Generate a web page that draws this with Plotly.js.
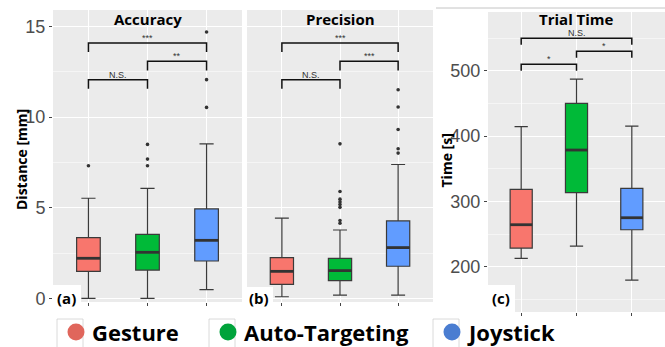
<!DOCTYPE html>
<html>
<head>
<meta charset="utf-8">
<script src="https://cdn.plot.ly/plotly-3.0.1.min.js"></script>
<style>
  html, body { margin: 0; padding: 0; background: #ffffff; }
  #chart { width: 665px; height: 347px; }
</style>
</head>
<body>
<div id="chart"></div>
<script>
// ---------------- data ----------------
const groups = ['Gesture', 'Auto-Targeting', 'Joystick'];
const groupPos = [1, 2, 3];

// Accuracy: Distance [mm]
const accQ1  = [1.49, 1.56, 2.06];
const accMed = [2.21, 2.54, 3.20];
const accQ3  = [3.35, 3.53, 4.93];
const accLo  = [0.00, 0.00, 0.48];
const accHi  = [5.52, 6.07, 8.52];
const accOutliers = [[7.31], [7.31, 7.68, 8.49], [10.53, 12.06, 14.69]];

// Precision: Distance [mm]
const preQ1  = [0.77, 0.98, 1.77];
const preMed = [1.49, 1.53, 2.80];
const preQ3  = [2.25, 2.21, 4.27];
const preLo  = [0.09, 0.18, 0.18];
const preHi  = [4.42, 3.77, 7.38];
const preOutliers = [[], [4.14, 4.29, 5.02, 5.17, 5.32, 5.47, 5.89, 8.52], [8.01, 8.25, 9.31, 10.55, 11.50]];

// Trial Time: Time [s]
const timQ1  = [228.6, 313.3, 256.6];
const timMed = [264.3, 378.6, 275.0];
const timQ3  = [318.4, 450.0, 319.9];
const timLo  = [212.8, 231.6, 179.6];
const timHi  = [414.3, 487.2, 415.3];
const timOutliers = [[], [], []];

// significance brackets: [from group, to group], height, label
const accSigPairs  = [[1, 2], [2, 3], [1, 3]];
const accSigY      = [12.06, 13.07, 14.08];
const accSigLabels = ['N.S.', '**', '***'];
const preSigPairs  = [[1, 2], [2, 3], [1, 3]];
const preSigY      = [12.06, 13.07, 14.08];
const preSigLabels = ['N.S.', '***', '***'];
const timSigPairs  = [[1, 2], [2, 3], [1, 3]];
const timSigY      = [509.8, 530.0, 549.6];
const timSigLabels = ['*', '*', 'N.S.'];

// ---------------- styles ----------------
const fills = ['#F8766D', '#00BA38', '#619CFF'];
const keyColors = ['#E0665C', '#00A33B', '#4A7DD1'];
const BOXW = 0.4;
const W = 665, H = 347;
const px = v => v / W;
const py = v => 1 - v / H;
const boldFont = 'Open Sans, Noto Sans, DejaVu Sans, sans-serif';
const tickFont = {family: 'Liberation Sans, Arial, sans-serif', size: 18, color: '#4D4D4D'};

const traces = [];
const shapes = [];
const annotations = [];

function addPanel(xa, ya, q1, med, q3, lo, hi, outs) {
  for (let i = 0; i < groups.length; i++) {
    traces.push({
      type: 'box', name: groups[i], x: [groupPos[i]],
      q1: [q1[i]], median: [med[i]], q3: [q3[i]],
      lowerfence: [lo[i]], upperfence: [hi[i]],
      width: BOXW, whiskerwidth: 0.6,
      fillcolor: fills[i], line: {color: '#3a3a3a', width: 1.2},
      boxpoints: false, showlegend: false, hoverinfo: 'skip',
      xaxis: xa, yaxis: ya
    });
  }
  // thick median lines
  const mx = [], my = [];
  for (let i = 0; i < groups.length; i++) {
    mx.push(groupPos[i] - BOXW / 2, groupPos[i] + BOXW / 2, null);
    my.push(med[i], med[i], null);
  }
  traces.push({type: 'scatter', mode: 'lines', x: mx, y: my,
    line: {color: '#333333', width: 2.8}, showlegend: false, hoverinfo: 'skip',
    xaxis: xa, yaxis: ya});
  // outliers
  const ox = [], oy = [];
  for (let i = 0; i < groups.length; i++) {
    outs[i].forEach(v => { ox.push(groupPos[i]); oy.push(v); });
  }
  traces.push({type: 'scatter', mode: 'markers', x: ox, y: oy,
    marker: {color: '#333333', size: 3.6}, showlegend: false, hoverinfo: 'skip',
    xaxis: xa, yaxis: ya});
}

function addBrackets(xref, yref, pairs, ys, labels, drop) {
  for (let k = 0; k < pairs.length; k++) {
    const [a, b] = pairs[k];
    const y = ys[k];
    shapes.push({type: 'path', xref: xref, yref: yref,
      path: `M ${a},${y - drop} L ${a},${y} L ${b},${y} L ${b},${y - drop}`,
      line: {color: '#111111', width: 1.5}});
    annotations.push({xref: xref, yref: yref, x: (a + b) / 2, y: y,
      text: labels[k], showarrow: false, yanchor: 'middle', yshift: 5,
      font: {family: 'Liberation Sans, Arial, sans-serif', size: 9, color: '#333333'}});
  }
}

addPanel('x', 'y', accQ1, accMed, accQ3, accLo, accHi, accOutliers);
addPanel('x2', 'y2', preQ1, preMed, preQ3, preLo, preHi, preOutliers);
addPanel('x3', 'y3', timQ1, timMed, timQ3, timLo, timHi, timOutliers);

addBrackets('x', 'y', accSigPairs, accSigY, accSigLabels, 0.5);
addBrackets('x2', 'y2', preSigPairs, preSigY, preSigLabels, 0.5);
addBrackets('x3', 'y3', timSigPairs, timSigY, timSigLabels, 10);

// panel titles
const panels = [
  {title: 'Accuracy', x0: 53, x1: 242, tag: '(a)', tagX: 66.7, box: [53, 81, 285, 303]},
  {title: 'Precision', x0: 247, x1: 433, tag: '(b)', tagX: 259, box: [247, 273, 287, 302]},
  {title: 'Trial Time', x0: 488, x1: 665, tag: '(c)', tagX: 501, box: [488, 515, 285, 312]}
];
panels.forEach(p => {
  annotations.push({xref: 'paper', yref: 'paper', x: px((p.x0 + p.x1) / 2), y: py(19),
    text: '<b>' + p.title + '</b>', showarrow: false, xanchor: 'center', yanchor: 'middle',
    font: {family: boldFont, size: 15, color: '#000000'}});
  shapes.push({type: 'rect', xref: 'paper', yref: 'paper', layer: 'above',
    x0: px(p.box[0]), x1: px(p.box[1]), y0: py(p.box[3]), y1: py(p.box[2]),
    fillcolor: '#ffffff', line: {width: 0}});
  annotations.push({xref: 'paper', yref: 'paper', x: px(p.tagX), y: py(298.3),
    text: '<b>' + p.tag + '</b>', showarrow: false, xanchor: 'center', yanchor: 'middle',
    font: {family: boldFont, size: 15, color: '#000000'}});
});

// y-axis titles
annotations.push({xref: 'paper', yref: 'paper', x: px(21), y: py(160),
  text: '<b>Distance [mm]</b>', textangle: -90, showarrow: false,
  xanchor: 'center', yanchor: 'middle', font: {family: boldFont, size: 14, color: '#000000'}});
annotations.push({xref: 'paper', yref: 'paper', x: px(446), y: py(160.5),
  text: '<b>Time [s]</b>', textangle: -90, showarrow: false,
  xanchor: 'center', yanchor: 'middle', font: {family: boldFont, size: 14, color: '#000000'}});

// separator line above panel (c)
shapes.push({type: 'line', xref: 'paper', yref: 'paper', x0: px(436), x1: 1, y0: py(8), y1: py(8),
  line: {color: '#c4c4c4', width: 1}});

// manual legend
const keyLeft = [57, 209, 433];
groups.forEach((g, i) => {
  const L = keyLeft[i];
  shapes.push({type: 'rect', xref: 'paper', yref: 'paper',
    x0: px(L), x1: px(L + 26), y0: py(348), y1: py(319),
    fillcolor: '#ffffff', line: {color: '#d0d0d0', width: 0.8}});
  shapes.push({type: 'circle', xref: 'paper', yref: 'paper',
    x0: px(L + 19 - 8.5), x1: px(L + 19 + 8.5), y0: py(332 + 8.5), y1: py(332 - 8.5),
    fillcolor: keyColors[i], line: {width: 0}});
  annotations.push({xref: 'paper', yref: 'paper', x: px(L + 32.5), y: py(332),
    text: '<b>' + g + '</b>', showarrow: false, xanchor: 'left', yanchor: 'middle',
    font: {family: boldFont, size: 22, color: '#000000'}});
});

function xAxis(d0, d1, anchor) {
  return {domain: [px(d0), px(d1)], anchor: anchor, range: [0.4, 3.6],
    tickvals: groupPos, showticklabels: false, ticks: 'outside', ticklen: 3,
    tickcolor: '#444444', tickwidth: 1,
    showgrid: true, gridcolor: '#ffffff', gridwidth: 1, zeroline: false, showline: false,
    fixedrange: true};
}
function yAxis(top, bottom, range, tickvals, minorStep, anchor, showLabels) {
  return {domain: [py(bottom), py(top)], anchor: anchor, range: range,
    tickvals: tickvals, showticklabels: showLabels, ticks: showLabels ? 'outside' : '',
    ticklen: 3, tickcolor: '#444444', tickwidth: 1, tickfont: tickFont,
    showgrid: true, gridcolor: '#ffffff', gridwidth: 1,
    minor: {tick0: 0, dtick: minorStep, showgrid: true, gridcolor: '#ffffff', gridwidth: 0.5, ticks: ''},
    zeroline: false, showline: false, fixedrange: true};
}

const layout = {
  width: W, height: H,
  margin: {l: 0, r: 0, t: 0, b: 0},
  paper_bgcolor: '#ffffff', plot_bgcolor: '#EBEBEB',
  showlegend: false, boxmode: 'overlay',
  xaxis:  xAxis(53, 242, 'y'),
  xaxis2: xAxis(247, 433, 'y2'),
  xaxis3: xAxis(488, 665, 'y3'),
  yaxis:  yAxis(10, 302, [-0.2, 15.9], [0, 5, 10, 15], 2.5, 'x', true),
  yaxis2: yAxis(10, 302, [-0.2, 15.9], [0, 5, 10, 15], 2.5, 'x2', false),
  yaxis3: yAxis(12, 312, [130.7, 589.9], [200, 300, 400, 500], 50, 'x3', true),
  shapes: shapes,
  annotations: annotations
};

Plotly.newPlot('chart', traces, layout, {staticPlot: true, displayModeBar: false});
</script>
</body>
</html>
